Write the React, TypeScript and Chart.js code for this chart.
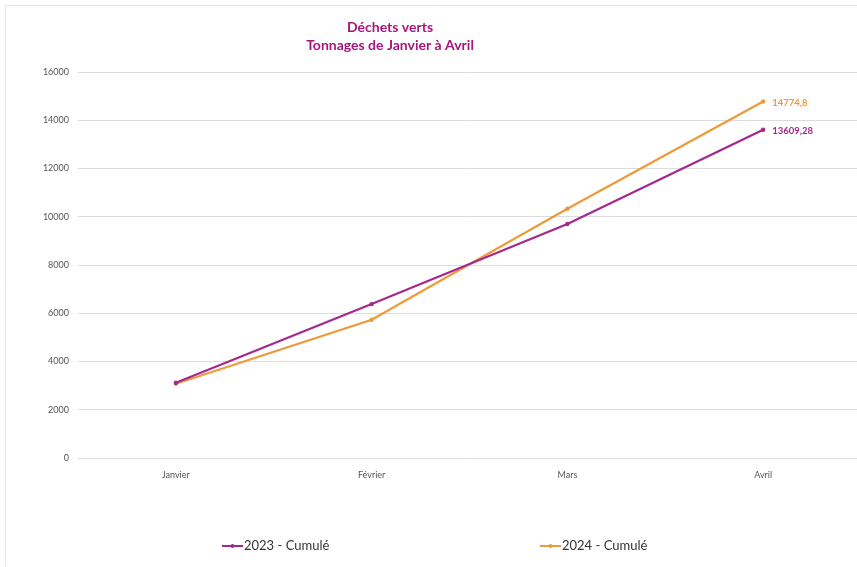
import React, { useEffect, useRef } from "react";
import { Chart, registerables } from "chart.js";

Chart.register(...registerables);

// Cumulative green-waste tonnage, January to April
const months = ["Janvier", "Février", "Mars", "Avril"];
const cumul2023 = [3120, 6380, 9700, 13609.28];
const cumul2024 = [3080, 5730, 10330, 14774.8];
const yTicks = [0, 2000, 4000, 6000, 8000, 10000, 12000, 14000, 16000];
const titleLines = ["Déchets verts", "Tonnages de Janvier à Avril"];
const seriesNames = ["2023 - Cumulé", "2024 - Cumulé"];

const PURPLE = "#A3288F";
const ORANGE = "#EE9A3A";
const TITLE_COLOR = "#A8157E";
const FONT = "Lato, 'Open Sans', sans-serif";

const formatFr = (v: number) => String(v).replace(".", ",");

// Frame, title, end-of-line value labels and the spaced-out legend
const decorPlugin = {
  id: "decor",
  beforeDraw(chart: any) {
    const ctx = chart.ctx;
    ctx.save();
    ctx.fillStyle = "#ffffff";
    ctx.fillRect(0, 0, chart.width, chart.height);
    ctx.strokeStyle = "#E4E4E4";
    ctx.lineWidth = 1;
    ctx.beginPath();
    ctx.moveTo(5.5, chart.height - 1);
    ctx.lineTo(5.5, 5.5);
    ctx.lineTo(chart.width, 5.5);
    ctx.stroke();
    ctx.restore();
  },
  afterDraw(chart: any) {
    const ctx = chart.ctx;
    ctx.save();
    // title
    ctx.fillStyle = TITLE_COLOR;
    ctx.font = `bold 14px ${FONT}`;
    ctx.textAlign = "center";
    ctx.textBaseline = "middle";
    const tx = 390;
    ctx.fillText(titleLines[0], tx, 27);
    ctx.fillText(titleLines[1], tx, 45);

    // value labels at the last point of each series
    ctx.font = `bold 9.5px ${FONT}`;
    ctx.textAlign = "left";
    chart.data.datasets.forEach((ds: any, i: number) => {
      const meta = chart.getDatasetMeta(i);
      const last = meta.data[meta.data.length - 1];
      const v = ds.data[ds.data.length - 1];
      ctx.fillStyle = ds.borderColor;
      ctx.fillText(formatFr(v), last.x + 9, last.y + 1);
    });

    // legend
    const legendX = [222, 540];
    const ly = 546;
    chart.data.datasets.forEach((ds: any, i: number) => {
      const x = legendX[i];
      ctx.strokeStyle = ds.borderColor;
      ctx.lineWidth = 2;
      ctx.beginPath();
      ctx.moveTo(x, ly);
      ctx.lineTo(x + 21, ly);
      ctx.stroke();
      ctx.fillStyle = ds.borderColor;
      ctx.beginPath();
      ctx.arc(x + 10.5, ly, 2, 0, Math.PI * 2);
      ctx.fill();
      ctx.fillStyle = "#333333";
      ctx.font = `13px ${FONT}`;
      ctx.textAlign = "left";
      ctx.textBaseline = "middle";
      ctx.fillText(ds.label, x + 22, ly);
    });
    ctx.restore();
  },
};

export default function App() {
  const canvasRef = useRef<HTMLCanvasElement | null>(null);

  useEffect(() => {
    document.body.style.margin = "0";
    const canvas = canvasRef.current;
    if (!canvas) return;
    const chart = new Chart(canvas, {
      type: "line",
      data: {
        labels: months,
        datasets: [
          {
            label: seriesNames[0],
            data: cumul2023,
            borderColor: PURPLE,
            backgroundColor: PURPLE,
            borderWidth: 2.2,
            pointRadius: 2.2,
            pointBorderWidth: 0,
            tension: 0,
          },
          {
            label: seriesNames[1],
            data: cumul2024,
            borderColor: ORANGE,
            backgroundColor: ORANGE,
            borderWidth: 2.2,
            pointRadius: 2.2,
            pointBorderWidth: 0,
            tension: 0,
          },
        ],
      },
      options: {
        responsive: false,
        animation: false,
        layout: { padding: { top: 72, left: 0, right: 0, bottom: 0 } },
        plugins: {
          legend: { display: false },
          title: { display: false },
          tooltip: { enabled: false },
        },
        scales: {
          x: {
            offset: true,
            grid: { display: false, drawTicks: false },
            border: { display: false },
            ticks: {
              color: "#555555",
              font: { family: FONT, size: 9 },
              padding: 12,
              maxRotation: 0,
            },
            afterFit: (s: any) => {
              s.height = 109;
            },
          },
          y: {
            min: 0,
            max: 16000,
            afterBuildTicks: (s: any) => {
              s.ticks = yTicks.map((v) => ({ value: v }));
            },
            grid: { color: "#DCDCDC", lineWidth: 1, drawTicks: false },
            border: { display: false },
            ticks: {
              color: "#555555",
              font: { family: FONT, size: 9 },
              padding: 9,
              callback: (v: any) => String(v),
            },
            afterFit: (s: any) => {
              s.width = 78;
            },
          },
        },
      },
      plugins: [decorPlugin],
    });
    return () => chart.destroy();
  }, []);

  return (
    <div
      style={{
        position: "fixed",
        left: 0,
        top: 0,
        width: 857,
        height: 567,
        overflow: "hidden",
      }}
    >
      <canvas ref={canvasRef} width={865} height={567} />
    </div>
  );
}
